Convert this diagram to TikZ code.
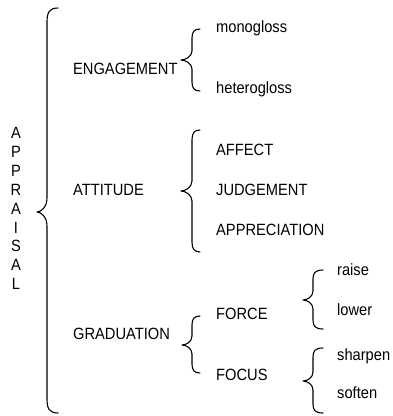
\documentclass[tikz,border=0pt]{standalone}
\usepackage{fontspec}
\setmainfont{Liberation Sans}[FakeStretch=0.9]
\newcommand{\curlyb}[7]{% #1 tip x, #2 stem x, #3 end x, #4 top y, #5 tip y, #6 bottom y, #7 curl
  \draw[bracestyle] (#3,#4) .. controls (#2+2,#4) and (#2,#4+0.35*#7) .. (#2,#4+#7)
    -- (#2,#5-#7) .. controls (#2,#5-0.35*#7) and (#1+4,#5) .. (#1,#5)
    .. controls (#1+4,#5) and (#2,#5+0.35*#7) .. (#2,#5+#7)
    -- (#2,#6-#7) .. controls (#2,#6-0.35*#7) and (#2+2,#6) .. (#3,#6);}
\begin{document}
\begin{tikzpicture}[x=1pt,y=-1pt,
  lbl/.style={anchor=base west,inner sep=0pt,font=\fontsize{16.3}{18}\selectfont},
  letter/.style={anchor=base,inner sep=0pt,font=\fontsize{16.3}{18}\selectfont},
  bracestyle/.style={line width=1.1pt,line join=round,line cap=round}]
\useasboundingbox (0,0) rectangle (392,416);
\foreach \l [count=\i] in {A,P,P,R,A,I,S,A,L}
  \node[letter,name=ap\i] at (16,138.5+18.9*\i-18.9) {\l};
\node[lbl] (eng) at (73,74.5) {ENGAGEMENT};
\node[lbl] (att) at (73,195) {ATTITUDE};
\node[lbl] (gra) at (73,339) {GRADUATION};
\node[lbl] (mono) at (216,32) {monogloss};
\node[lbl] (hetero) at (216,93) {heterogloss};
\node[lbl] (aff) at (216,155) {AFFECT};
\node[lbl] (jud) at (216,195) {JUDGEMENT};
\node[lbl] (app) at (216,235) {APPRECIATION};
\node[lbl] (force) at (216,319) {FORCE};
\node[lbl] (focus) at (216,380) {FOCUS};
\node[lbl] (raise) at (337,275) {raise};
\node[lbl] (lower) at (337,315) {lower};
\node[lbl] (sharpen) at (337,360) {sharpen};
\node[lbl] (soften) at (337,398) {soften};
\curlyb{37}{47}{58}{8}{212}{413}{14}
\curlyb{181}{192}{200}{29}{60}{91}{9}
\curlyb{181}{192}{200}{130}{191}{252}{10}
\curlyb{182}{192}{200}{316}{345}{373}{9}
\curlyb{303}{313}{323}{270}{300}{329}{9}
\curlyb{303}{313}{323}{348}{381}{413}{9}
\end{tikzpicture}
\end{document}
